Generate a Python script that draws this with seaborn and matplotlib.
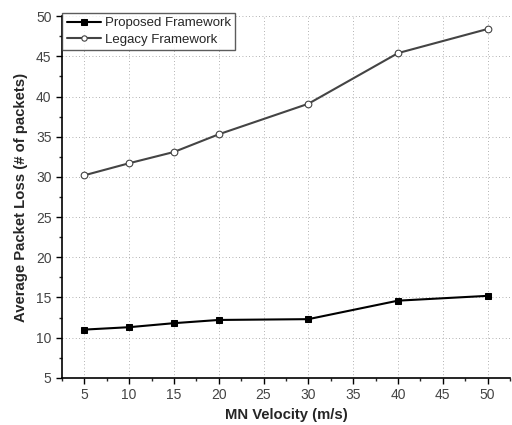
import matplotlib
matplotlib.use("Agg")
import matplotlib.pyplot as plt
import seaborn as sns
import pandas as pd
from matplotlib.ticker import MultipleLocator

velocity = [5, 10, 15, 20, 30, 40, 50]
proposed = [11.0, 11.3, 11.8, 12.2, 12.3, 14.6, 15.2]
legacy = [30.2, 31.7, 33.1, 35.3, 39.1, 45.4, 48.4]
series_names = ["Proposed Framework", "Legacy Framework"]

df = pd.DataFrame({
    "Velocity": velocity * 2,
    "Loss": proposed + legacy,
    "Series": [series_names[0]] * len(velocity) + [series_names[1]] * len(velocity),
})

sns.set_style("ticks")
plt.rcParams["font.family"] = ["Liberation Sans", "DejaVu Sans"]

fig = plt.figure(figsize=(5.12, 4.25), dpi=100)
ax = fig.add_axes([0.121, 0.111, 0.875, 0.851])

sns.lineplot(data=df[df.Series == series_names[0]], x="Velocity", y="Loss", ax=ax,
             color="black", lw=1.5, marker="s", markersize=4.8, markerfacecolor="black",
             markeredgecolor="black", label=series_names[0])
sns.lineplot(data=df[df.Series == series_names[1]], x="Velocity", y="Loss", ax=ax,
             color="#444444", lw=1.5, marker="o", markersize=4.8, markerfacecolor="white",
             markeredgecolor="#444444", markeredgewidth=0.8, label=series_names[1])

ax.set_xlim(2.5, 52.5)
ax.set_ylim(5, 50)
ax.xaxis.set_major_locator(MultipleLocator(5))
ax.xaxis.set_minor_locator(MultipleLocator(2.5))
ax.yaxis.set_major_locator(MultipleLocator(5))
ax.yaxis.set_minor_locator(MultipleLocator(2.5))
ax.grid(True, which="major", linestyle=(0, (1, 3)), color="#999999", lw=0.6)
ax.tick_params(which="major", direction="out", length=4, width=1, colors="black",
               labelcolor="#444444", labelsize=10)
ax.tick_params(which="minor", direction="out", length=2.5, width=1)
for s in ["top", "right"]:
    ax.spines[s].set_visible(False)
for s in ["left", "bottom"]:
    ax.spines[s].set_linewidth(1.2)
    ax.spines[s].set_color("black")

ax.set_xlabel("MN Velocity (m/s)", fontsize=10.7, fontweight="bold", labelpad=4)
ax.set_ylabel("Average Packet Loss (# of packets)", fontsize=10.7, fontweight="bold", labelpad=6)

leg = ax.legend(loc="upper left", bbox_to_anchor=(0.0, 1.01), frameon=True, fancybox=False,
                edgecolor="#333333", fontsize=9.5, borderaxespad=0.0, handlelength=2.6,
                handletextpad=0.3, labelspacing=0.3, borderpad=0.35, markerscale=0.8)
leg.get_frame().set_linewidth(1.0)

fig.savefig("out.png", dpi=100)
